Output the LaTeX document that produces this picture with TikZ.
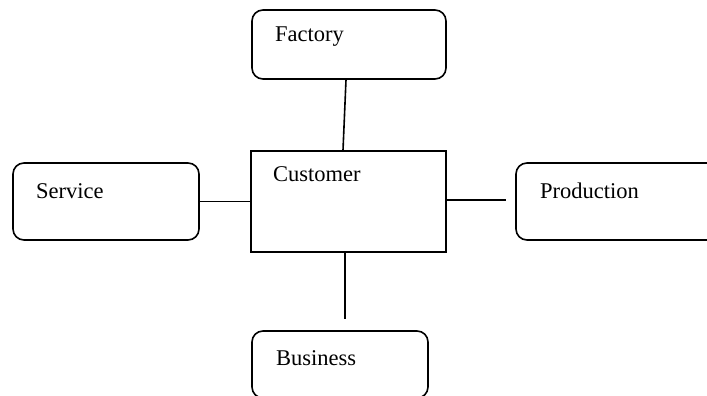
\documentclass[tikz,border=0pt]{standalone}
\usepackage{fontspec}
\setmainfont{Liberation Serif}
\begin{document}
\begin{tikzpicture}[x=1pt,y=-1pt,
  roundbox/.style={draw,line width=1.6pt,rounded corners=11pt,inner sep=0pt},
  squarebox/.style={draw,line width=1.6pt,inner sep=0pt},
  lbl/.style={anchor=west,inner sep=0pt,font=\fontsize{22.5}{26}\selectfont},
  link/.style={line width=1.6pt}]
\useasboundingbox (0,0) rectangle (707,396);
\clip (0,0) rectangle (707,396);

% boxes
\node[roundbox,minimum width=194pt,minimum height=69pt] (factory) at (349,44.5) {};
\node[squarebox,minimum width=195pt,minimum height=101pt] (customer) at (348.5,201.5) {};
\node[roundbox,minimum width=186pt,minimum height=77pt] (service) at (106,201.5) {};
\node[roundbox,minimum width=204pt,minimum height=77pt] (production) at (618,201.5) {};
\node[roundbox,minimum width=176pt,minimum height=67pt] (business) at (340,364.5) {};

% labels
\node[lbl] (tfactory) at (275,37) {Factory};
\node[lbl] (tcustomer) at (273,174) {Customer};
\node[lbl] (tservice) at (36,191) {Service};
\node[lbl] (tproduction) at (540,191) {Production};
\node[lbl] (tbusiness) at (276,358) {Business};

% connectors
\coordinate (prodend) at (506,200);
\coordinate (busend) at (345,319);
\draw[link] ([xshift=-3pt]factory.south) -- ([xshift=-5.5pt]customer.north);
\draw[link] (service.east) -- (service.east -| customer.west);
\draw[link] (customer.east |- prodend) -- (prodend);
\draw[link] (customer.south -| busend) -- (busend);
\end{tikzpicture}
\end{document}
